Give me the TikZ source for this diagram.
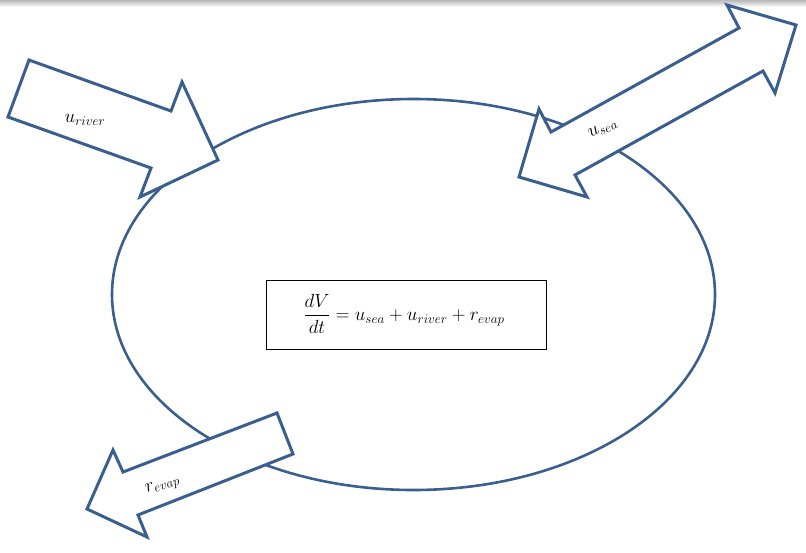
\documentclass[tikz,border=0pt]{standalone}
\usepackage{amsmath}
\begin{document}
\begin{tikzpicture}[x=1pt,y=-1pt,
  flow/.style={draw=arrowblue, line width=3pt, line join=miter, fill=white},
  rim/.style={draw=arrowblue, line width=2.6pt},
  lab/.style={inner sep=0pt, font=\LARGE, scale=1.1}]
\definecolor{arrowblue}{HTML}{3A5F8E}
\useasboundingbox (0,0) rectangle (806,552);
\shade[top color=black!28, bottom color=white, draw=none] (0,0) rectangle (806,7);
% basin
\draw[rim] (413.5,294.5) ellipse [x radius=301.5, y radius=195.5];
% river inflow arrow
\draw[flow] (29,60) -- (171,111) -- (182,82) -- (218,160) -- (140,197) -- (151,168) -- (8,117) -- cycle;
% sea exchange double arrow
\draw[flow] (551,132) -- (739,28) -- (727,5) -- (796,25) -- (775,93) -- (763,71) -- (575,175) -- (587,197) -- (519,177) -- (539,109) -- cycle;
% evaporation arrow
\draw[flow] (277,413) -- (293,454) -- (138,515) -- (147,537) -- (87,509) -- (113,450) -- (123,472) -- cycle;
% labels
\node[lab] (uriver) at (85,120) {$u_{river}$};
\node[lab, rotate=26] (usea) at (603,129) {$u_{sea}$};
\node[lab, rotate=18] (revap) at (163,486) {$r_{evap}$};
% equation box
\draw[black, line width=0.8pt] (266,280) rectangle (546,349);
\node[lab] (eq) at (404,314) {$\displaystyle\frac{dV}{dt}=u_{sea}+u_{river}+r_{evap}$};
\end{tikzpicture}
\end{document}
